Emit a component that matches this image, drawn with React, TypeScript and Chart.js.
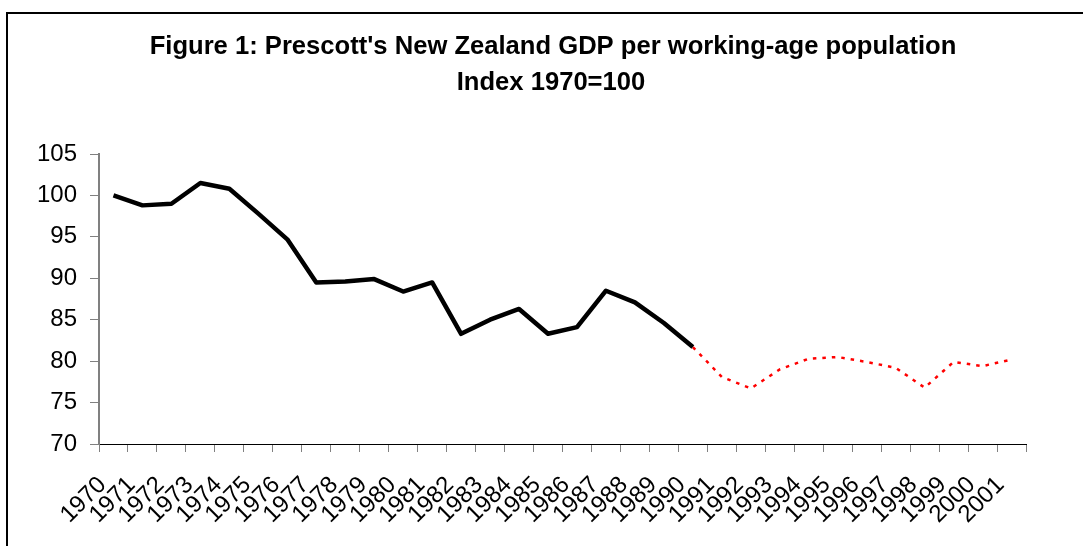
import React, { useEffect, useRef } from "react";
import { Chart, registerables } from "chart.js";

Chart.register(...registerables);

const years: string[] = [
  "1970", "1971", "1972", "1973", "1974", "1975", "1976", "1977", "1978", "1979",
  "1980", "1981", "1982", "1983", "1984", "1985", "1986", "1987", "1988", "1989",
  "1990", "1991", "1992", "1993", "1994", "1995", "1996", "1997", "1998", "1999",
  "2000", "2001",
];

// Solid black series (1970–1990)
const gdpSolid: (number | null)[] = [
  100, 98.8, 99.0, 101.5, 100.8, 97.8, 94.7, 89.5, 89.6, 89.9,
  88.4, 89.5, 83.3, 85.0, 86.3, 83.3, 84.1, 88.5, 87.1, 84.6,
  81.7, null, null, null, null, null, null, null, null, null,
  null, null,
];

// Dotted red series (1990–2001)
const gdpDotted: (number | null)[] = [
  null, null, null, null, null, null, null, null, null, null,
  null, null, null, null, null, null, null, null, null, null,
  81.7, 78.1, 76.7, 79.0, 80.3, 80.5, 79.9, 79.2, 76.8, 79.9,
  79.4, 80.2,
];

const titleLines: string[] = [
  "Figure 1: Prescott's New Zealand GDP per working-age population",
  "Index 1970=100",
];

const yTicks = { min: 70, max: 105, step: 5 };

const FONT = "'Liberation Sans', Arial, Helvetica, sans-serif";

const framePlugin = {
  id: "frameAndTitle",
  beforeDraw(chart: any) {
    const ctx = chart.ctx;
    ctx.save();
    ctx.fillStyle = "#ffffff";
    ctx.fillRect(0, 0, chart.width, chart.height);
    ctx.strokeStyle = "#000000";
    ctx.lineWidth = 2;
    ctx.strokeRect(7, 13, chart.width + 40, chart.height + 40);
    ctx.restore();
  },
  afterDraw(chart: any) {
    const ctx = chart.ctx;
    ctx.save();
    ctx.fillStyle = "#000000";
    ctx.font = `bold 25.6px ${FONT}`;
    ctx.textAlign = "center";
    ctx.textBaseline = "middle";
    ctx.fillText(titleLines[0], 553, 47);
    ctx.fillText(titleLines[1], 551, 83);
    ctx.restore();
  },
};

export default function App() {
  const canvasRef = useRef<HTMLCanvasElement | null>(null);

  useEffect(() => {
    document.body.style.margin = "0";
    const canvas = canvasRef.current;
    if (!canvas) return;
    const chart = new Chart(canvas, {
      type: "line",
      data: {
        labels: years,
        datasets: [
          {
            label: "GDP per working-age population",
            data: gdpSolid,
            borderColor: "#000000",
            borderWidth: 4.5,
            pointRadius: 0,
            tension: 0,
            borderJoinStyle: "round",
            spanGaps: false,
          },
          {
            label: "Projection",
            data: gdpDotted,
            borderColor: "#ff0000",
            borderWidth: 2.5,
            borderDash: [3.5, 6],
            pointRadius: 0,
            tension: 0,
            spanGaps: false,
          },
        ],
      },
      options: {
        animation: false,
        responsive: true,
        maintainAspectRatio: false,
        layout: { padding: { left: 0, right: 57, top: 154, bottom: 0 } },
        plugins: {
          legend: { display: false },
          title: { display: false },
          tooltip: { enabled: false },
        },
        scales: {
          x: {
            type: "category",
            offset: true,
            grid: {
              offset: true,
              drawOnChartArea: false,
              drawTicks: true,
              tickLength: 8,
              color: "#808080",
            },
            border: { display: true, color: "#000000", width: 1 },
            ticks: {
              autoSkip: false,
              minRotation: 45,
              maxRotation: 45,
              padding: 19,
              labelOffset: -11,
              color: "#000000",
              font: { family: FONT, size: 24 },
            },
            afterFit(scale: any) {
              scale.height = 102;
            },
          },
          y: {
            min: yTicks.min,
            max: yTicks.max,
            grid: {
              drawOnChartArea: false,
              drawTicks: true,
              tickLength: 9,
              color: "#808080",
            },
            border: { display: true, color: "#808080", width: 2 },
            ticks: {
              stepSize: yTicks.step,
              padding: 13,
              color: "#000000",
              font: { family: FONT, size: 24 },
            },
            afterFit(scale: any) {
              scale.width = 99;
            },
          },
        },
      },
      plugins: [framePlugin],
    });
    return () => chart.destroy();
  }, []);

  return (
    <div style={{ position: "fixed", left: 0, top: 0, width: 1083, height: 546 }}>
      <canvas ref={canvasRef} />
    </div>
  );
}
